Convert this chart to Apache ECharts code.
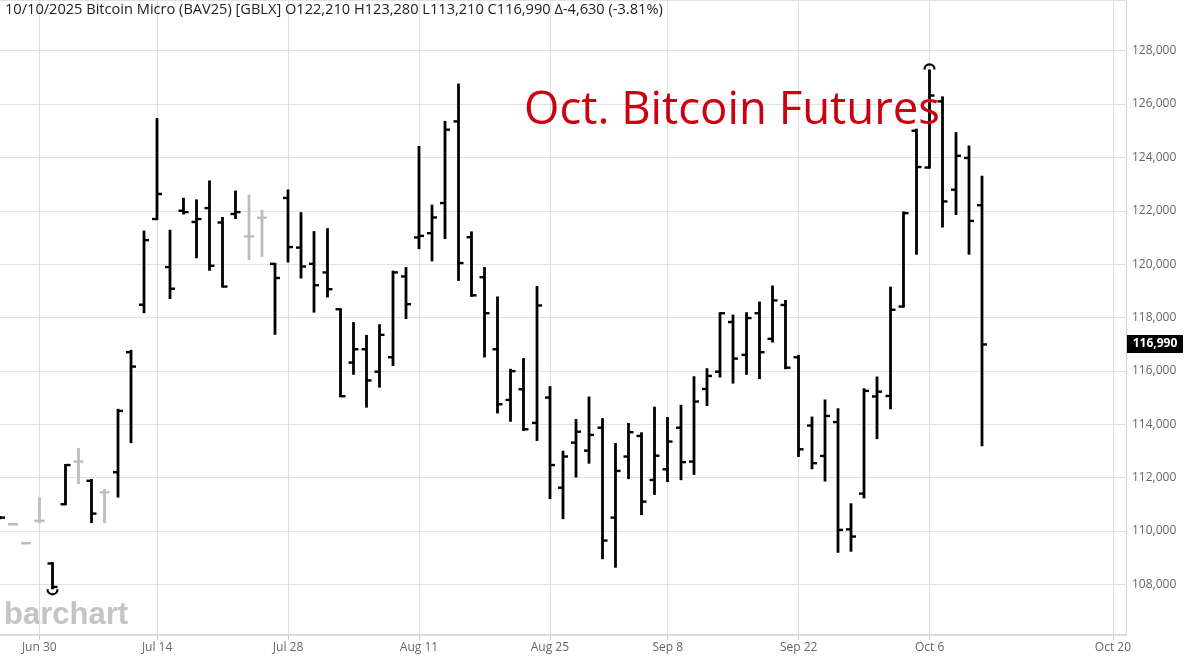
<!DOCTYPE html>
<html><head><meta charset="utf-8">
<script src="https://cdn.jsdelivr.net/npm/echarts@6/dist/echarts.min.js"></script>
<style>html,body{margin:0;padding:0;background:#fff}#c{width:1188px;height:661px}</style>
</head><body><div id="c"></div>
<script>
// Categories: trading days Jun 25 – Oct 10, then calendar days to Oct 21
const categories = [
 'Jun 25','Jun 26','Jun 27','Jun 30','Jul 1','Jul 2','Jul 3',
 'Jul 7','Jul 8','Jul 9','Jul 10','Jul 11',
 'Jul 14','Jul 15','Jul 16','Jul 17','Jul 18',
 'Jul 21','Jul 22','Jul 23','Jul 24','Jul 25',
 'Jul 28','Jul 29','Jul 30','Jul 31','Aug 1',
 'Aug 4','Aug 5','Aug 6','Aug 7','Aug 8',
 'Aug 11','Aug 12','Aug 13','Aug 14','Aug 15',
 'Aug 18','Aug 19','Aug 20','Aug 21','Aug 22',
 'Aug 25','Aug 26','Aug 27','Aug 28','Aug 29',
 'Sep 2','Sep 3','Sep 4','Sep 5',
 'Sep 8','Sep 9','Sep 10','Sep 11','Sep 12',
 'Sep 15','Sep 16','Sep 17','Sep 18','Sep 19',
 'Sep 22','Sep 23','Sep 24','Sep 25','Sep 26',
 'Sep 29','Sep 30','Oct 1','Oct 2','Oct 3',
 'Oct 6','Oct 7','Oct 8','Oct 9','Oct 10',
 'Oct 11','Oct 12','Oct 13','Oct 14','Oct 15','Oct 16','Oct 17','Oct 18','Oct 19','Oct 20','Oct 21'
];
const tickLabels = ['Jun 30','Jul 14','Jul 28','Aug 11','Aug 25','Sep 8','Sep 22','Oct 6','Oct 20'];

const opens = [
 110520,110250,109540,110380,108780,111000,112600,
 111880,111450,112200,116700,118480,
 121690,119890,122000,121580,122100,
 121560,121880,121040,121740,120010,
 122480,120620,120010,119690,118310,
 116310,116810,115970,116510,119540,
 121000,121160,122290,125350,121010,
 119510,116810,114910,115310,114050,
 115000,111620,113310,113010,113870,
 110500,112790,113560,111910,
 112310,113870,112600,115320,115970,
 117830,116600,118160,117200,118470,
 116510,113950,112810,114080,110060,
 111400,115040,115060,118410,125000,
 123620,126100,122790,123980,122210
];
const highs = [
 110520,110250,109540,111220,108800,112470,113070,
 111910,111540,114540,116750,121220,
 125440,121250,122450,122390,123100,
 121730,122720,122570,122000,120010,
 122760,121910,121200,121310,118310,
 117790,117310,117710,119720,119850,
 124390,122190,125330,126730,121190,
 119850,118750,116040,116440,119140,
 115390,112970,114160,115000,114190,
 113260,114010,113660,114620,
 114230,114690,115760,116060,118160,
 118070,118160,118560,119160,118620,
 116560,114250,114890,114560,111000,
 115310,115750,119120,121940,125040,
 127260,126250,124910,124410,123280
];
const lows = [
 110480,110250,109540,110330,107850,111000,111790,
 110330,110330,111290,113330,118200,
 121690,118730,121900,120260,119790,
 119160,121730,120190,120310,117390,
 120100,119500,118220,118790,115050,
 115890,114660,115410,116220,117980,
 120600,120140,120980,119410,118810,
 116540,114440,114130,113790,113410,
 111230,110480,112040,112560,108980,
 108660,111980,110630,111390,
 111870,111940,112140,114720,115790,
 115560,115890,115730,117100,116100,
 112810,112350,111890,109220,109260,
 111260,113480,114600,118410,120390,
 123620,121410,121880,120390,113210
];
const closes = [
 110500,110250,109540,110380,107900,112470,112600,
 110650,111450,114500,116160,120900,
 122630,119080,121950,121690,119940,
 119160,121950,121040,121740,119480,
 120640,119910,119210,119060,115050,
 116810,115640,117350,119690,118500,
 121060,121750,125040,120040,118830,
 118160,114750,115990,113810,118450,
 112470,112790,113720,113600,109640,
 112250,113700,111100,112820,
 113350,112580,114850,115810,118160,
 116460,117980,116700,118640,116120,
 113060,112540,114310,110040,109790,
 115250,115220,118290,121910,123640,
 126320,122350,124060,121620,116990
];
const headerDate = '10/10/2025';
const headerName = 'Bitcoin Micro (BAV25) [GBLX]';
const titleText = 'Oct. Bitcoin Futures';

const fmt = n => Math.abs(n).toLocaleString('en-US');
const n = closes.length - 1;
const delta = closes[n] - closes[n - 1];
const pct = delta / closes[n - 1] * 100;
const headerText = `${headerDate} ${headerName} O${fmt(opens[n])} H${fmt(highs[n])} L${fmt(lows[n])} C${fmt(closes[n])} \u0394${delta < 0 ? '-' : '+'}${fmt(delta)} (${pct.toFixed(2)}%)`;

let minIdx = 0, maxIdx = 0;
lows.forEach((v, i) => { if (v < lows[minIdx]) minIdx = i; });
highs.forEach((v, i) => { if (v > highs[maxIdx]) maxIdx = i; });

const data = opens.map((o, i) => [i, o, highs[i], lows[i], closes[i]]);

const showTick = (idx, val) => tickLabels.indexOf(val) >= 0;

function renderItem(params, api) {
  const i = api.value(0);
  const o = api.value(1), h = api.value(2), l = api.value(3), c = api.value(4);
  const pH = api.coord([i, h]), pL = api.coord([i, l]);
  const pO = api.coord([i, o]), pC = api.coord([i, c]);
  const x = Math.round(pH[0] * 2) / 2;
  const color = o === c ? '#bdbdbd' : '#000';
  const lw = 2.8, tk = 5;
  const st = { stroke: color, lineWidth: lw };
  const ch = [
    { type: 'line', shape: { x1: x, y1: pH[1] - 1, x2: x, y2: pL[1] + 1 }, style: st },
    { type: 'line', shape: { x1: x - tk, y1: pO[1], x2: x, y2: pO[1] }, style: { stroke: color, lineWidth: 2.4 } },
    { type: 'line', shape: { x1: x, y1: pC[1], x2: x + tk, y2: pC[1] }, style: { stroke: color, lineWidth: 2.4 } }
  ];
  if (i === minIdx) {
    ch.push({ type: 'arc', shape: { cx: x, cy: pL[1] + 1, r: 5, startAngle: 0, endAngle: Math.PI, clockwise: true },
      style: { stroke: '#000', lineWidth: 2.2, fill: null } });
  }
  if (i === maxIdx) {
    ch.push({ type: 'arc', shape: { cx: x, cy: pH[1] - 1, r: 5, startAngle: Math.PI, endAngle: Math.PI * 2, clockwise: true },
      style: { stroke: '#000', lineWidth: 2.2, fill: null } });
  }
  return { type: 'group', children: ch };
}

const chart = echarts.init(document.getElementById('c'), null, { renderer: 'canvas' });
const option = {
  animation: false,
  backgroundColor: '#fff',
  grid: { left: 0, right: 62, top: 0, bottom: 26, containLabel: false },
  xAxis: {
    type: 'category', data: categories, boundaryGap: false,
    axisLine: { show: true, lineStyle: { color: '#dcdcdc', width: 2 } },
    axisTick: { show: true, interval: showTick, length: 5, lineStyle: { color: '#c8c8c8' } },
    axisLabel: { interval: showTick, color: '#666', fontSize: 12, fontFamily: 'Open Sans', margin: 7 },
    splitLine: { show: true, interval: showTick, lineStyle: { color: '#dedede', width: 1 } }
  },
  yAxis: {
    type: 'value', position: 'right', min: 106100, max: 129900,
    splitNumber: 12, minInterval: 2000, maxInterval: 2000,
    axisLine: { show: true, lineStyle: { color: '#d4d4d4', width: 1 } },
    axisTick: { show: false },
    axisLabel: { color: '#666', fontSize: 12, fontFamily: 'Open Sans', margin: 6,
      showMinLabel: false, showMaxLabel: false,
      formatter: v => v.toLocaleString('en-US') },
    splitLine: { show: true, lineStyle: { color: '#e2e2e2', width: 1 } }
  },
  series: [{
    type: 'custom', renderItem: renderItem, data: data,
    encode: { x: 0, y: [1, 2, 3, 4] }, clip: true, silent: true
  }],
  graphic: [
    { id: 'wm', type: 'text', left: 4, top: 600, z: 0,
      style: { text: 'barchart', fill: '#c4c4c4', font: 'bold 31px "Liberation Sans", Arial, sans-serif' } },
    { id: 'hdr', type: 'text', left: 5, top: 2, z: 10,
      style: { text: headerText, fill: '#222', font: '14.6px "Open Sans", sans-serif' } },
    { id: 'ttl', type: 'text', left: 524, top: 88, z: 10,
      style: { text: titleText, fill: '#cc0011', font: '45.5px "Open Sans", sans-serif' } }
  ]
};
chart.setOption(option);

const yPix = chart.convertToPixel({ yAxisIndex: 0 }, closes[n]);
chart.setOption({
  graphic: [
    { id: 'lastBox', type: 'rect', shape: { x: 1127, y: Math.round(yPix) - 9, width: 56, height: 18 },
      style: { fill: '#000' }, z: 20 },
    { id: 'lastTxt', type: 'text', x: 1155, y: Math.round(yPix), z: 21,
      style: { text: closes[n].toLocaleString('en-US'), fill: '#fff', font: 'bold 12px "Open Sans", sans-serif',
        align: 'center', verticalAlign: 'middle' } }
  ]
});
</script></body></html>
